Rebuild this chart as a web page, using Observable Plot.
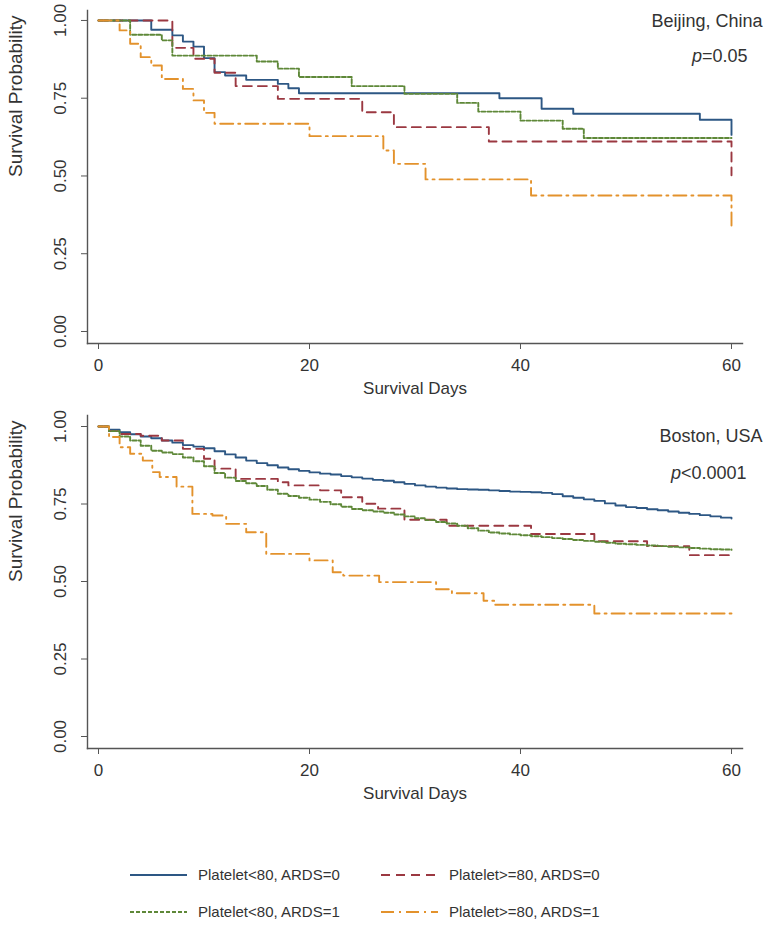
<!DOCTYPE html>
<html><head><meta charset="utf-8">
<script src="https://cdn.jsdelivr.net/npm/d3@7"></script>
<script src="https://cdn.jsdelivr.net/npm/@observablehq/plot@0.6"></script>
<style>
body{margin:0;background:#fff;font-family:"Liberation Sans",Arial,sans-serif;}
#chart{width:768px;}
#chart svg{display:block;overflow:visible;}
</style></head><body><div id="chart"></div>
<script>
// ---- series definitions ----
const seriesNames = ["Platelet<80, ARDS=0", "Platelet>=80, ARDS=0", "Platelet<80, ARDS=1", "Platelet>=80, ARDS=1"];
const seriesColors = ["#2d5784", "#9b3841", "#5e8838", "#e3922c"];
const seriesDash = [null, "9,6", "4,2", "13,5,2,5"];
const xTicks = [0, 20, 40, 60];
const yTicks = [0, 0.25, 0.5, 0.75, 1];
const panelTitles = ["Beijing, China", "Boston, USA"];
const pValues = ["p=0.05", "p<0.0001"];

// ---- Beijing, China ----
const bjBlueDays = [0, 5, 7, 8, 9, 10, 11, 12, 14, 17, 18, 19, 38, 42, 45, 57, 60];
const bjBlueSurv = [1, 0.970, 0.952, 0.932, 0.916, 0.879, 0.834, 0.823, 0.809, 0.796, 0.782, 0.766, 0.750, 0.716, 0.700, 0.681, 0.632];
const bjRedDays = [0, 7, 9, 11, 13, 17, 25, 28, 37, 60];
const bjRedSurv = [1, 0.912, 0.877, 0.832, 0.789, 0.748, 0.705, 0.657, 0.611, 0.502];
const bjGreenDays = [0, 3, 6, 7, 15, 17, 19, 24, 29, 34, 36, 40, 44, 46, 60];
const bjGreenSurv = [1, 0.954, 0.936, 0.887, 0.868, 0.845, 0.818, 0.789, 0.764, 0.735, 0.707, 0.678, 0.652, 0.622, 0.622];
const bjOrangeDays = [0, 2, 3, 4, 5, 6, 8, 9, 10, 11, 20, 27, 28, 31, 41, 60];
const bjOrangeSurv = [1, 0.968, 0.925, 0.882, 0.855, 0.812, 0.780, 0.743, 0.703, 0.668, 0.628, 0.582, 0.539, 0.489, 0.437, 0.335];

// ---- Boston, USA ----
const bsBlueDays = [0,1,2,3,4,5,6,7,8,9,10,11,12,13,14,15,16,17,18,19,20,21,22,23,24,25,26,27,28,29,30,31,32,33,34,35,36,37,38,39,40,41,42,43,44,45,46,47,48,49,50,51,52,53,54,55,56,57,58,59,60];
const bsBlueSurv = [1,0.990,0.982,0.975,0.968,0.962,0.955,0.948,0.940,0.935,0.930,0.920,0.910,0.900,0.890,0.882,0.875,0.868,0.862,0.857,0.852,0.848,0.845,0.840,0.836,0.832,0.828,0.825,0.820,0.815,0.810,0.806,0.803,0.800,0.798,0.797,0.796,0.794,0.792,0.790,0.789,0.788,0.786,0.782,0.775,0.770,0.765,0.760,0.752,0.745,0.740,0.737,0.733,0.730,0.726,0.722,0.718,0.714,0.710,0.706,0.703];
const bsRedDays = [0, 1, 2, 4, 6, 8, 10, 11, 13, 17, 18, 21, 23, 25, 26.5, 29, 33, 41, 47, 52, 56, 60];
const bsRedSurv = [1, 0.985, 0.976, 0.970, 0.955, 0.928, 0.896, 0.864, 0.831, 0.820, 0.810, 0.794, 0.772, 0.751, 0.735, 0.699, 0.680, 0.653, 0.630, 0.614, 0.585, 0.585];
const bsGreenDays = [0,1,2,3,4,5,6,7,8,9,10,11,12,13,14,15,16,17,18,19,20,21,22,23,24,25,26,27,28,29,30,31,32,33,34,35,36,37,38,39,40,41,42,43,44,45,46,47,48,49,50,51,52,53,54,55,56,57,58,59,60];
const bsGreenSurv = [1,0.985,0.968,0.955,0.938,0.922,0.916,0.911,0.900,0.888,0.872,0.850,0.835,0.824,0.817,0.808,0.796,0.783,0.776,0.770,0.764,0.757,0.749,0.741,0.734,0.730,0.726,0.722,0.716,0.710,0.704,0.698,0.692,0.687,0.680,0.672,0.664,0.658,0.655,0.652,0.649,0.646,0.643,0.640,0.637,0.634,0.631,0.628,0.625,0.622,0.620,0.618,0.616,0.614,0.612,0.610,0.608,0.606,0.604,0.603,0.602];
const bsOrangeDays = [0, 1, 2, 3, 4.2, 5.1, 5.8, 7.4, 8.9, 10.8, 12.1, 14, 15.9, 20, 22.2, 23.2, 26.6, 32, 33.5, 36.5, 37.5, 47, 60];
const bsOrangeSurv = [1, 0.966, 0.933, 0.912, 0.890, 0.853, 0.837, 0.806, 0.718, 0.713, 0.686, 0.659, 0.589, 0.568, 0.530, 0.519, 0.498, 0.475, 0.462, 0.438, 0.425, 0.397, 0.397];

function toRows(daysList, survList) {
  const rows = [];
  daysList.forEach((days, i) => days.forEach((d, j) => rows.push({series: seriesNames[i], day: d, surv: survList[i][j]})));
  return rows;
}
const bjRows = toRows([bjBlueDays, bjRedDays, bjGreenDays, bjOrangeDays], [bjBlueSurv, bjRedSurv, bjGreenSurv, bjOrangeSurv]);
const bsRows = toRows([bsBlueDays, bsRedDays, bsGreenDays, bsOrangeDays], [bsBlueSurv, bsRedSurv, bsGreenSurv, bsOrangeSurv]);

const FONT = "'Liberation Sans', Arial, sans-serif";
const TXT = "#333";

function panel(rows, o) {
  const svg = Plot.plot({
    width: 768, height: o.h,
    marginTop: o.mt, marginBottom: o.mb, marginLeft: 87, marginRight: 26,
    x: {domain: [-1.043, 61.043]},
    y: {domain: o.ydom},
    style: {fontFamily: FONT, fontSize: "17px", color: TXT, background: "#fff", overflow: "visible"},
    marks: [
      Plot.frame({anchor: "left", stroke: "#555", strokeWidth: 1.4}),
      Plot.frame({anchor: "bottom", stroke: "#555", strokeWidth: 1.4}),
      Plot.axisX({ticks: xTicks, tickSize: 6, tickPadding: 9, label: null, fontSize: 17, stroke: "#555", fill: TXT}),
      Plot.axisY({ticks: yTicks, tickFormat: d3.format(".2f"), tickRotate: -90, tickSize: 6, tickPadding: 16, label: null, fontSize: 17, stroke: "#555", fill: TXT}),
      ...seriesNames.map((s, i) => Plot.line(rows.filter(r => r.series === s), {
        x: "day", y: "surv", curve: "step-after",
        stroke: seriesColors[i], strokeWidth: 1.9, strokeDasharray: seriesDash[i]
      })),
      Plot.text(["Survival Days"], {frameAnchor: "bottom", lineAnchor: "middle", dy: 45, fontSize: 17, fill: TXT}),
      Plot.text(["Survival Probability"], {frameAnchor: "left", lineAnchor: "middle", rotate: -90, dx: -72, fontSize: 19, fill: TXT}),
      Plot.text([o.title], {frameAnchor: "top-right", lineAnchor: "middle", textAnchor: "end", dx: 20, dy: o.titleDy, fontSize: 18, fill: TXT}),
      Plot.text([o.p], {frameAnchor: "top-right", lineAnchor: "middle", textAnchor: "end", dx: o.pDx, dy: o.pDy, fontSize: 18, fill: TXT})
    ]
  });
  // italic "p"
  d3.select(svg).selectAll("text").each(function() {
    if (this.textContent === o.p) {
      const rest = o.p.slice(1);
      const t = d3.select(this);
      t.text(null);
      t.append("tspan").attr("font-style", "italic").text("p");
      t.append("tspan").text(rest);
    }
  });
  return svg;
}

const root = document.getElementById("chart");
root.appendChild(panel(bjRows, {h: 400, mt: 10, mb: 57, ydom: [-0.0386, 1.032], title: panelTitles[0], titleDy: 10.5, p: pValues[0], pDx: 5, pDy: 45.5}));
root.appendChild(panel(bsRows, {h: 412, mt: 15, mb: 64, ydom: [-0.0387, 1.0355], title: panelTitles[1], titleDy: 21, p: pValues[1], pDx: 4, pDy: 58}));

// ---- legend ----
const leg = d3.create("svg").attr("width", 768).attr("height", 115)
  .style("font-family", FONT).style("font-size", "15px");
const legX = [130, 381], legY = [63, 100];
seriesNames.forEach((s, i) => {
  const cx = legX[i % 2], cy = legY[Math.floor(i / 2)];
  leg.append("line").attr("x1", cx).attr("x2", cx + 57).attr("y1", cy).attr("y2", cy)
    .attr("stroke", seriesColors[i]).attr("stroke-width", 1.9)
    .attr("stroke-dasharray", seriesDash[i]);
  leg.append("text").attr("x", cx + 68).attr("y", cy).attr("dy", "0.35em").attr("fill", TXT).text(s);
});
root.appendChild(leg.node());
</script>
</body></html>
